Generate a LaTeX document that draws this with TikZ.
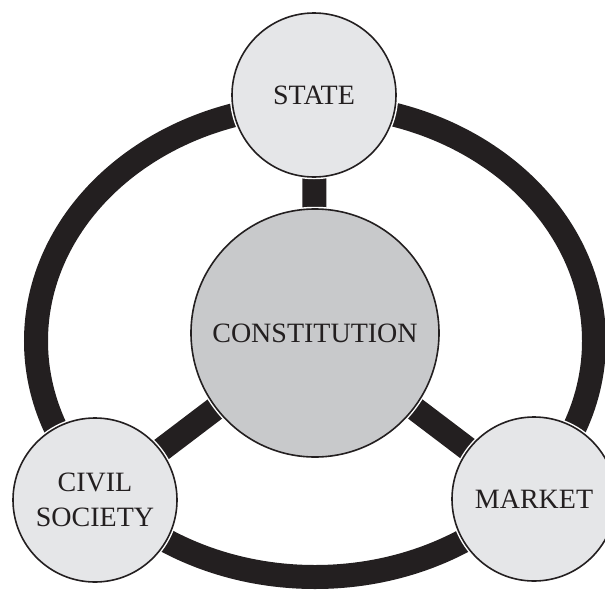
\documentclass[tikz,border=0pt]{standalone}
\usepackage{fontspec}
\setmainfont{Liberation Serif}
\usetikzlibrary{backgrounds}
\definecolor{inkblack}{HTML}{231F20}
\definecolor{lightfill}{HTML}{E5E6E8}
\definecolor{midfill}{HTML}{C8C9CB}
\tikzset{
  bubble/.style={circle, draw=inkblack, line width=1.6pt, fill=lightfill,
    minimum size=164pt, inner sep=0pt, text=inkblack, align=center,
    font=\fontsize{28}{35}\selectfont,
    preaction={draw=white, line width=4.5pt}},
  core/.style={bubble, fill=midfill, minimum size=248pt},
  bar/.style={draw=inkblack, line width=24pt},
  ring/.style={draw=inkblack, line width=24pt}
}
\begin{document}
\begin{tikzpicture}[x=1pt,y=-1pt]
\useasboundingbox (0,0) rectangle (605,589);
\clip (0,0) rectangle (605,589);
\node[core] (const) at (315,333) {CONSTITUTION};
\node[bubble] (state) at (314,95) {STATE};
\node[bubble] (civil) at (95,500) {CIVIL\\SOCIETY};
\node[bubble] (market) at (534,499) {MARKET};
\coordinate (ringc) at (315,341);
\begin{scope}[on background layer]
  \draw[ring] (ringc) ellipse [x radius=279pt, y radius=236pt];
  \draw[bar] (state.center) -- (const.center);
  \draw[bar] (civil.center) -- (const.center);
  \draw[bar] (market.center) -- (const.center);
\end{scope}
\end{tikzpicture}
\end{document}
